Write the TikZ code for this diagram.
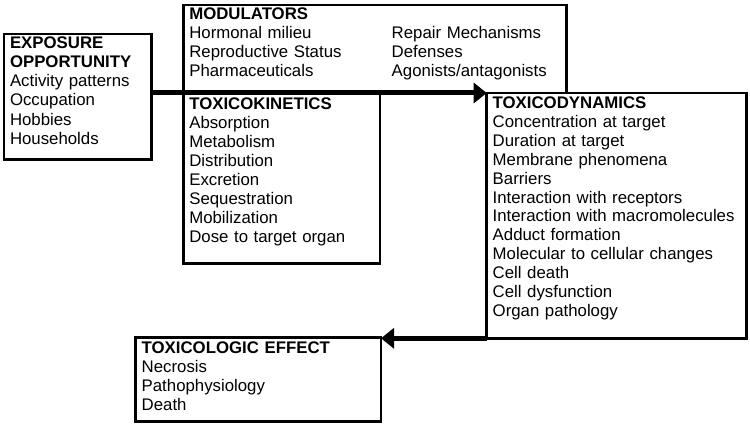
\documentclass[tikz,border=0pt]{standalone}
\usepackage{fontspec}
\setmainfont{Liberation Sans}
\usetikzlibrary{arrows.meta}
\tikzset{
  box/.style={draw, line width=2.6pt, inner sep=0pt, outer sep=0pt, anchor=north west, rectangle},
  txt/.style={inner sep=0pt, outer sep=0pt, anchor=base west, text width=260pt, align=left,
              font=\fontsize{16.8}{18.95}\selectfont},
  flow/.style={line width=5pt, -{Triangle[length=13pt,width=20pt]}}
}
\begin{document}
\begin{tikzpicture}[x=1pt,y=-1pt]
\useasboundingbox (0,0) rectangle (750,428);
% boxes
\node[box, minimum width=147.7pt, minimum height=125.3pt] (expo) at (4,34) {};
\node[box, minimum width=383.4pt, minimum height=88pt] (mod) at (183.3,5) {};
\node[box, minimum width=196.7pt, minimum height=170.3pt] (tk) at (183.3,93) {};
\node[box, minimum width=260pt, minimum height=245.3pt] (td) at (486.7,93) {};
\node[box, minimum width=245.7pt, minimum height=84.4pt] (eff) at (135.3,337.3) {};
% texts
\node[txt, font=\fontsize{16.8}{19.2}\selectfont] (expot) at (10,48.3) {\textbf{EXPOSURE}\\\textbf{OPPORTUNITY}\\Activity patterns\\Occupation\\Hobbies\\Households};
\node[txt] (modt) at (189.3,20) {\textbf{MODULATORS}\\Hormonal milieu\\Reproductive Status\\Pharmaceuticals};
\node[txt] (modt2) at (391.7,38.95) {Repair Mechanisms\\Defenses\\Agonists/antagonists};
\node[txt] (tkt) at (189.3,110) {\textbf{TOXICOKINETICS}\\Absorption\\Metabolism\\Distribution\\Excretion\\Sequestration\\Mobilization\\Dose to target organ};
\node[txt] (tdt) at (492.7,108.3) {\textbf{TOXICODYNAMICS}\\Concentration at target\\Duration at target\\Membrane phenomena\\Barriers\\Interaction with receptors\\Interaction with macromolecules\\Adduct formation\\Molecular to cellular changes\\Cell death\\Cell dysfunction\\Organ pathology};
\node[txt] (efft) at (141.7,353.3) {\textbf{TOXICOLOGIC EFFECT}\\Necrosis\\Pathophysiology\\Death};
% connectors
\draw[flow] (expo.east |- tk.north) -- (td.north west);
\draw[flow] (td.south west) -- (td.south west -| eff.east);
\end{tikzpicture}
\end{document}
